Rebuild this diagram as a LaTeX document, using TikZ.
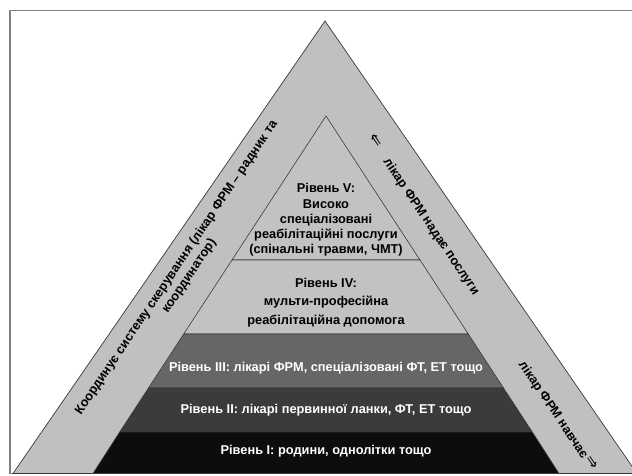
\documentclass[tikz,border=0pt]{standalone}
\usepackage{fontspec}
\setmainfont{Liberation Sans}
\newfontfamily\arrowfont{DejaVu Sans}
\definecolor{bandgray}{HTML}{C0C0C0}
\definecolor{lightlayer}{HTML}{C2C2C2}
\definecolor{midlayer}{HTML}{666666}
\definecolor{darklayer}{HTML}{3B3B3B}
\definecolor{blacklayer}{HTML}{0D0D0D}
\definecolor{linegray}{HTML}{3A3A3A}
\definecolor{framegray}{HTML}{808080}
\begin{document}
\begin{tikzpicture}[x=1pt,y=-1pt,
  band/.style={fill=bandgray, draw=linegray, line width=0.7pt},
  layer/.style={draw=linegray, line width=0.6pt},
  lbl/.style={font=\bfseries\fontsize{12.8}{15.3}\selectfont, align=center, inner sep=0pt},
  wlbl/.style={lbl, text=white},
  arr/.style={font=\arrowfont\fontsize{16}{16}\selectfont, inner sep=0pt}]
\useasboundingbox (0,0) rectangle (632,475);
\clip (0,0) rectangle (632,475);
% frame
\draw[framegray, line width=1.4pt] (633,10.5) -- (10,10.5) -- (10,473.5) -- (633,473.5);
% outer triangle band
\filldraw[band] (325,21) -- (13,473.5) -- (637,473.5) -- cycle;
% pyramid layers
\filldraw[layer, fill=lightlayer] (326,116) -- (232,260) -- (420,260) -- cycle;
\filldraw[layer, fill=lightlayer] (232,260) -- (183.7,334) -- (468.3,334) -- (420,260) -- cycle;
\filldraw[layer, fill=midlayer] (183.7,334) -- (148.5,388) -- (503.5,388) -- (468.3,334) -- cycle;
\filldraw[layer, fill=darklayer] (148.5,388) -- (119.7,432) -- (532.3,432) -- (503.5,388) -- cycle;
\filldraw[layer, fill=blacklayer] (119.7,432) -- (93,473.5) -- (559,473.5) -- (532.3,432) -- cycle;
% layer labels
\node[lbl] (l5) at (326,220) {Рівень V:\\Високо\\спеціалізовані\\реабілітаційні послуги\\(спінальні травми, ЧМТ)};
\node[lbl, font=\bfseries\fontsize{12.8}{18.5}\selectfont] (l4) at (326,302.5) {Рівень IV:\\мульти-професійна\\реабілітаційна допомога};
\node[wlbl] (l3) at (326,368) {Рівень III: лікарі ФРМ, спеціалізовані ФТ, ЕТ тощо};
\node[wlbl] (l2) at (326,410) {Рівень II: лікарі первинної ланки, ФТ, ЕТ тощо};
\node[wlbl] (l1) at (326,451.5) {Рівень I: родини, однолітки тощо};
% band labels
\node[lbl, rotate=56] (coord) at (183,272) {Координує систему скерування (лікар ФРМ – радник та\\координатор)};
\node[lbl, rotate=-56] (serve) at (431,227) {лікар ФРМ надає послуги};
\node[arr, rotate=-56] (arrup) at (376,141) {⇐};
\node[lbl, rotate=-56] (teach) at (553,410) {лікар ФРМ навчає};
\node[arr, rotate=-56] (arrdown) at (592,463) {⇒};
\end{tikzpicture}
\end{document}
